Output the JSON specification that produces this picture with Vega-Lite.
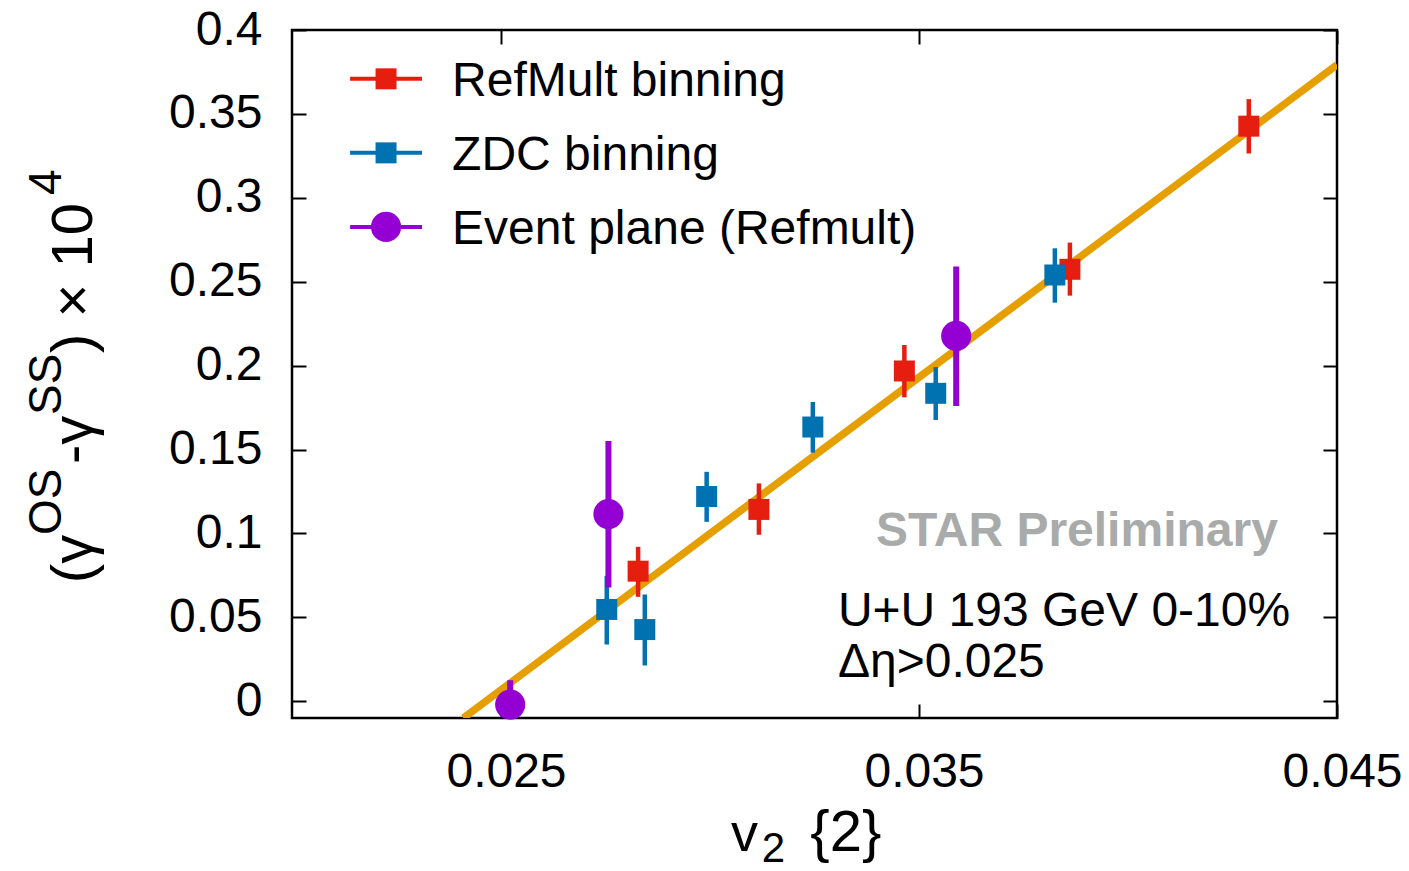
{
  "$schema": "https://vega.github.io/schema/vega-lite/v6.json",
  "width": 1045,
  "height": 688,
  "autosize": {"type": "none"},
  "padding": {"left": 292, "top": 30, "right": 72, "bottom": 153},
  "background": "white",
  "config": {
    "font": "Liberation Sans",
    "view": {"stroke": "#000", "strokeWidth": 2.5},
    "axis": {
      "labelFont": "Liberation Sans",
      "labelFontSize": 48,
      "labelColor": "#000",
      "tickColor": "#000",
      "tickWidth": 2,
      "tickSize": -14,
      "domain": false,
      "grid": false,
      "title": null,
      "labelFlush": false
    }
  },
  "datasets": {
    "points": [
      {"series": "RefMult binning", "v2": 0.02828, "g": 0.0775, "lo": 0.0622, "hi": 0.0920},
      {"series": "RefMult binning", "v2": 0.03117, "g": 0.1143, "lo": 0.0992, "hi": 0.1298},
      {"series": "RefMult binning", "v2": 0.03465, "g": 0.1968, "lo": 0.1811, "hi": 0.2123},
      {"series": "RefMult binning", "v2": 0.03861, "g": 0.2574, "lo": 0.2417, "hi": 0.2733},
      {"series": "RefMult binning", "v2": 0.04289, "g": 0.3427, "lo": 0.3264, "hi": 0.3588},
      {"series": "ZDC binning", "v2": 0.02753, "g": 0.0547, "lo": 0.0338, "hi": 0.0747},
      {"series": "ZDC binning", "v2": 0.02844, "g": 0.0427, "lo": 0.0213, "hi": 0.0636},
      {"series": "ZDC binning", "v2": 0.02992, "g": 0.1220, "lo": 0.1069, "hi": 0.1367},
      {"series": "ZDC binning", "v2": 0.03246, "g": 0.1634, "lo": 0.1481, "hi": 0.1783},
      {"series": "ZDC binning", "v2": 0.03540, "g": 0.1835, "lo": 0.1676, "hi": 0.1992},
      {"series": "ZDC binning", "v2": 0.03825, "g": 0.2540, "lo": 0.2375, "hi": 0.2699},
      {"series": "Event plane (Refmult)", "v2": 0.02522, "g": -0.0020, "lo": -0.0165, "hi": 0.0125},
      {"series": "Event plane (Refmult)", "v2": 0.02757, "g": 0.1115, "lo": 0.0678, "hi": 0.1550},
      {"series": "Event plane (Refmult)", "v2": 0.03589, "g": 0.2177, "lo": 0.1759, "hi": 0.2590}
    ],
    "fit": [
      {"v2": 0.0241, "g": -0.01},
      {"v2": 0.045, "g": 0.3793}
    ],
    "one": [{}]
  },
  "resolve": {"axis": {"x": "independent", "y": "independent"}},
  "layer": [
    {
      "data": {"name": "fit"},
      "mark": {"type": "line", "color": "#E69F00", "strokeWidth": 7.5, "clip": true},
      "encoding": {
        "x": {"field": "v2", "type": "quantitative",
              "scale": {"domain": [0.02, 0.045], "nice": false, "zero": false},
              "axis": {"orient": "bottom", "values": [0.025, 0.035, 0.045], "format": ".3f", "labelPadding": 44, "labelOffset": 5}},
        "y": {"field": "g", "type": "quantitative",
              "scale": {"domain": [-0.01, 0.4], "nice": false, "zero": false},
              "axis": {"orient": "left", "values": [0, 0.05, 0.1, 0.15, 0.2, 0.25, 0.3, 0.35, 0.4], "format": ".2~f", "labelPadding": 44}}
      }
    },
    {
      "data": {"name": "points"},
      "mark": {"type": "rule", "clip": true},
      "encoding": {
        "x": {"field": "v2", "type": "quantitative",
              "axis": {"orient": "top", "values": [0.025, 0.035, 0.045], "labels": false}},
        "y": {"field": "lo", "type": "quantitative",
              "axis": {"orient": "right", "values": [0, 0.05, 0.1, 0.15, 0.2, 0.25, 0.3, 0.35, 0.4], "labels": false}},
        "y2": {"field": "hi"},
        "color": {"field": "series", "type": "nominal",
                  "scale": {"domain": ["RefMult binning", "ZDC binning", "Event plane (Refmult)"], "range": ["#E51E10", "#0072B2", "#9400D3"]},
                  "legend": null},
        "strokeWidth": {"condition": {"test": "datum.series == 'Event plane (Refmult)'", "value": 6}, "value": 4.5}
      }
    },
    {
      "data": {"name": "points"},
      "transform": [{"filter": "datum.series != 'Event plane (Refmult)'"}],
      "mark": {"type": "square", "size": 441, "opacity": 1, "filled": true},
      "encoding": {
        "x": {"field": "v2", "type": "quantitative", "axis": null},
        "y": {"field": "g", "type": "quantitative", "axis": null},
        "color": {"field": "series", "type": "nominal",
                  "scale": {"domain": ["RefMult binning", "ZDC binning", "Event plane (Refmult)"], "range": ["#E51E10", "#0072B2", "#9400D3"]},
                  "legend": null}
      }
    },
    {
      "data": {"name": "points"},
      "transform": [{"filter": "datum.series == 'Event plane (Refmult)'"}],
      "mark": {"type": "circle", "size": 908, "opacity": 1, "filled": true},
      "encoding": {
        "x": {"field": "v2", "type": "quantitative", "axis": null},
        "y": {"field": "g", "type": "quantitative", "axis": null},
        "color": {"field": "series", "type": "nominal",
                  "scale": {"domain": ["RefMult binning", "ZDC binning", "Event plane (Refmult)"], "range": ["#E51E10", "#0072B2", "#9400D3"]},
                  "legend": null}
      }
    },
    {
      "data": {"name": "one"},
      "mark": {"type": "rule", "color": "#E51E10", "strokeWidth": 4},
      "encoding": {"x": {"datum": 0.02139, "type": "quantitative", "axis": null}, "x2": {"datum": 0.02311}, "y": {"datum": 0.3709, "type": "quantitative", "axis": null}}
    },
    {
      "data": {"name": "one"},
      "mark": {"type": "square", "size": 441, "opacity": 1, "filled": true, "color": "#E51E10"},
      "encoding": {"x": {"datum": 0.02225, "type": "quantitative", "axis": null}, "y": {"datum": 0.3709, "type": "quantitative", "axis": null}}
    },
    {
      "data": {"name": "one"},
      "mark": {"type": "text", "align": "left", "baseline": "alphabetic", "fontSize": 48, "color": "#000"},
      "encoding": {"x": {"datum": 0.02383, "type": "quantitative", "axis": null}, "y": {"datum": 0.36076, "type": "quantitative", "axis": null}, "text": {"value": "RefMult binning"}}
    },
    {
      "data": {"name": "one"},
      "mark": {"type": "rule", "color": "#0072B2", "strokeWidth": 4},
      "encoding": {"x": {"datum": 0.02139, "type": "quantitative", "axis": null}, "x2": {"datum": 0.02311}, "y": {"datum": 0.32678, "type": "quantitative", "axis": null}}
    },
    {
      "data": {"name": "one"},
      "mark": {"type": "square", "size": 441, "opacity": 1, "filled": true, "color": "#0072B2"},
      "encoding": {"x": {"datum": 0.02225, "type": "quantitative", "axis": null}, "y": {"datum": 0.32678, "type": "quantitative", "axis": null}}
    },
    {
      "data": {"name": "one"},
      "mark": {"type": "text", "align": "left", "baseline": "alphabetic", "fontSize": 48, "color": "#000"},
      "encoding": {"x": {"datum": 0.02383, "type": "quantitative", "axis": null}, "y": {"datum": 0.31664, "type": "quantitative", "axis": null}, "text": {"value": "ZDC binning"}}
    },
    {
      "data": {"name": "one"},
      "mark": {"type": "rule", "color": "#9400D3", "strokeWidth": 4},
      "encoding": {"x": {"datum": 0.02139, "type": "quantitative", "axis": null}, "x2": {"datum": 0.02311}, "y": {"datum": 0.28265, "type": "quantitative", "axis": null}}
    },
    {
      "data": {"name": "one"},
      "mark": {"type": "circle", "size": 908, "opacity": 1, "filled": true, "color": "#9400D3"},
      "encoding": {"x": {"datum": 0.02225, "type": "quantitative", "axis": null}, "y": {"datum": 0.28265, "type": "quantitative", "axis": null}}
    },
    {
      "data": {"name": "one"},
      "mark": {"type": "text", "align": "left", "baseline": "alphabetic", "fontSize": 48, "color": "#000"},
      "encoding": {"x": {"datum": 0.02383, "type": "quantitative", "axis": null}, "y": {"datum": 0.27251, "type": "quantitative", "axis": null}, "text": {"value": "Event plane (Refmult)"}}
    },
    {
      "data": {"name": "one"},
      "mark": {"type": "text", "align": "left", "baseline": "alphabetic", "fontSize": 48, "fontWeight": "bold", "color": "#a9abaa"},
      "encoding": {"x": {"datum": 0.03397, "type": "quantitative", "axis": null}, "y": {"datum": 0.0924, "type": "quantitative", "axis": null}, "text": {"value": "STAR Preliminary"}}
    },
    {
      "data": {"name": "one"},
      "mark": {"type": "text", "align": "left", "baseline": "alphabetic", "fontSize": 48, "color": "#000"},
      "encoding": {"x": {"datum": 0.03306, "type": "quantitative", "axis": null}, "y": {"datum": 0.0447, "type": "quantitative", "axis": null}, "text": {"value": "U+U 193 GeV 0-10%"}}
    },
    {
      "data": {"name": "one"},
      "mark": {"type": "text", "align": "left", "baseline": "alphabetic", "fontSize": 48, "color": "#000"},
      "encoding": {"x": {"datum": 0.03306, "type": "quantitative", "axis": null}, "y": {"datum": 0.0143, "type": "quantitative", "axis": null}, "text": {"value": "Δη>0.025"}}
    },
    {
      "data": {"name": "one"},
      "mark": {"type": "text", "align": "left", "baseline": "alphabetic", "fontSize": 54, "color": "#000"},
      "encoding": {"x": {"datum": 0.0305, "type": "quantitative", "axis": null}, "y": {"datum": -0.0895, "type": "quantitative", "axis": null}, "text": {"value": "v"}}
    },
    {
      "data": {"name": "one"},
      "mark": {"type": "text", "align": "left", "baseline": "alphabetic", "fontSize": 42, "color": "#000"},
      "encoding": {"x": {"datum": 0.03124, "type": "quantitative", "axis": null}, "y": {"datum": -0.096, "type": "quantitative", "axis": null}, "text": {"value": "2"}}
    },
    {
      "data": {"name": "one"},
      "mark": {"type": "text", "align": "left", "baseline": "alphabetic", "fontSize": 58, "color": "#000"},
      "encoding": {"x": {"datum": 0.0324, "type": "quantitative", "axis": null}, "y": {"datum": -0.0895, "type": "quantitative", "axis": null}, "text": {"value": "{2}"}}
    },
    {
      "data": {"name": "one"},
      "mark": {"type": "text", "align": "left", "baseline": "alphabetic", "angle": 270, "fontSize": 58, "color": "#000"},
      "encoding": {"x": {"datum": 0.015215, "type": "quantitative", "axis": null}, "y": {"datum": 0.07036, "type": "quantitative", "axis": null}, "text": {"value": "(γ"}}
    },
    {
      "data": {"name": "one"},
      "mark": {"type": "text", "align": "left", "baseline": "alphabetic", "angle": 270, "fontSize": 46, "color": "#000"},
      "encoding": {"x": {"datum": 0.014474, "type": "quantitative", "axis": null}, "y": {"datum": 0.09899, "type": "quantitative", "axis": null}, "text": {"value": "OS"}}
    },
    {
      "data": {"name": "one"},
      "mark": {"type": "text", "align": "left", "baseline": "alphabetic", "angle": 270, "fontSize": 58, "color": "#000"},
      "encoding": {"x": {"datum": 0.015215, "type": "quantitative", "axis": null}, "y": {"datum": 0.14132, "type": "quantitative", "axis": null}, "text": {"value": "-γ"}}
    },
    {
      "data": {"name": "one"},
      "mark": {"type": "text", "align": "left", "baseline": "alphabetic", "angle": 270, "fontSize": 46, "color": "#000"},
      "encoding": {"x": {"datum": 0.014474, "type": "quantitative", "axis": null}, "y": {"datum": 0.17054, "type": "quantitative", "axis": null}, "text": {"value": "SS"}}
    },
    {
      "data": {"name": "one"},
      "mark": {"type": "text", "align": "left", "baseline": "alphabetic", "angle": 270, "fontSize": 58, "color": "#000"},
      "encoding": {"x": {"datum": 0.015215, "type": "quantitative", "axis": null}, "y": {"datum": 0.20751, "type": "quantitative", "axis": null}, "text": {"value": ") × 10"}}
    },
    {
      "data": {"name": "one"},
      "mark": {"type": "text", "align": "left", "baseline": "alphabetic", "angle": 270, "fontSize": 46, "color": "#000"},
      "encoding": {"x": {"datum": 0.014474, "type": "quantitative", "axis": null}, "y": {"datum": 0.30173, "type": "quantitative", "axis": null}, "text": {"value": "4"}}
    }
  ]
}
